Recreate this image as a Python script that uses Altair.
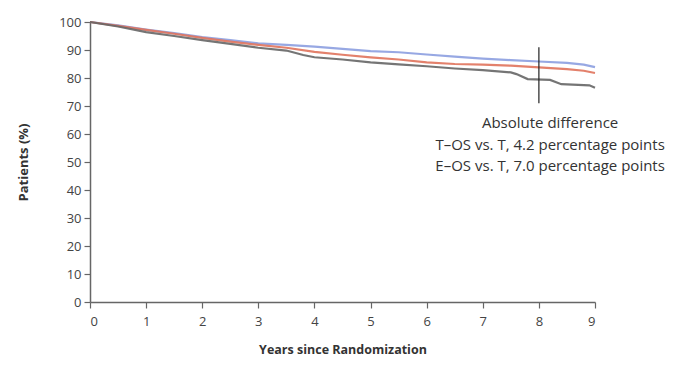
import altair as alt
import pandas as pd

# Series data (years since randomization, % patients)
years_blue = [0, 0.5, 1, 1.5, 2, 2.5, 3, 3.5, 4, 4.5, 5, 5.5, 6, 6.5, 7, 7.5, 8, 8.5, 8.8, 9]
vals_blue = [100, 98.8, 97.3, 96.0, 94.6, 93.5, 92.4, 91.8, 91.2, 90.4, 89.6, 89.2, 88.4, 87.6, 86.9, 86.4, 85.9, 85.4, 84.8, 83.9]

years_orange = [0, 0.5, 1, 1.5, 2, 2.5, 3, 3.5, 4, 4.5, 5, 5.5, 6, 6.5, 7, 7.5, 8, 8.5, 8.8, 9]
vals_orange = [100, 98.6, 97.2, 95.8, 94.3, 93.0, 91.8, 90.8, 89.3, 88.3, 87.4, 86.6, 85.6, 85.0, 84.8, 84.4, 83.8, 83.2, 82.6, 81.8]

years_gray = [0, 0.5, 1, 1.5, 2, 2.5, 3, 3.5, 3.8, 4, 4.5, 5, 5.5, 6, 6.5, 7, 7.5, 7.6, 7.8, 8.2, 8.4, 8.9, 9]
vals_gray = [100, 98.4, 96.4, 95.0, 93.5, 92.2, 90.8, 89.8, 88.2, 87.4, 86.6, 85.6, 84.9, 84.2, 83.4, 82.8, 82.0, 81.4, 79.6, 79.3, 77.8, 77.4, 76.5]

series_names = ["T–OS", "T", "E–OS"]
series_colors = ["#8c9fe0", "#e0735c", "#666666"]

rule_x = [8]
rule_y = [71]
rule_y2 = [91]

annot_text = ["Absolute difference",
              "T–OS vs. T, 4.2 percentage points",
              "E–OS vs. T, 7.0 percentage points"]
annot_y = [64.0, 56.2, 48.6]
annot_x = [8.2, 8.2, 8.2]

x_ticks = list(range(0, 10))
y_ticks = list(range(0, 101, 10))

rows = []
for name, xs, ys in [("T–OS", years_blue, vals_blue), ("T", years_orange, vals_orange), ("E–OS", years_gray, vals_gray)]:
    for i, (a, b) in enumerate(zip(xs, ys)):
        rows.append({"series": name, "year": a, "pct": b, "order": i})
df = pd.DataFrame(rows)

FONT = "Open Sans"

x_scale = alt.Scale(domain=[0, 9], nice=False)
y_scale = alt.Scale(domain=[0, 100], nice=False)

x_axis = alt.Axis(values=x_ticks, title="Years since Randomization", grid=False,
                  format="d", labelFontSize=13, titleFontSize=12.5, titleFontWeight="bold",
                  labelFont=FONT, titleFont=FONT, labelColor="#444", titleColor="#333",
                  domainColor="#666", tickColor="#666", domainWidth=1.5, tickWidth=1.2,
                  tickSize=6, labelPadding=7, titlePadding=15, labelOverlap=False)
y_axis = alt.Axis(values=y_ticks, title="Patients (%)", grid=False,
                  labelFontSize=13, titleFontSize=13, titleFontWeight="bold",
                  labelFont=FONT, titleFont=FONT, labelColor="#444", titleColor="#333",
                  domainColor="#666", tickColor="#666", domainWidth=1.5, tickWidth=1.2,
                  tickSize=6, labelPadding=3, titlePadding=28, labelOverlap=False)

lines = alt.Chart(df).mark_line(strokeWidth=2.2, opacity=0.9).encode(
    x=alt.X("year:Q", scale=x_scale, axis=x_axis),
    y=alt.Y("pct:Q", scale=y_scale, axis=y_axis),
    color=alt.Color("series:N", scale=alt.Scale(domain=series_names, range=series_colors), legend=None),
    order=alt.Order("order:Q"),
)

rule_df = pd.DataFrame({"x": rule_x, "y": rule_y, "y2": rule_y2})
rule = alt.Chart(rule_df).mark_rule(color="#222", strokeWidth=1.2).encode(
    x=alt.X("x:Q", scale=x_scale, axis=x_axis),
    y=alt.Y("y:Q", scale=y_scale, axis=y_axis),
    y2="y2:Q",
)

text_df = pd.DataFrame({"x": annot_x, "y": annot_y, "t": annot_text})
text = alt.Chart(text_df).mark_text(font=FONT, fontSize=15, color="#333", align="center", baseline="middle").encode(
    x=alt.X("x:Q", scale=x_scale, axis=x_axis),
    y=alt.Y("y:Q", scale=y_scale, axis=y_axis),
    text="t:N",
)

chart = alt.layer(lines, rule, text).properties(
    width=505, height=280,
    background="white",
    autosize=alt.AutoSizeParams(type="none"),
    padding={"left": 82, "top": 14, "right": 73, "bottom": 58},
).configure_view(stroke=None)

chart.save("out.html", embed_options={"renderer": "svg", "actions": False})
